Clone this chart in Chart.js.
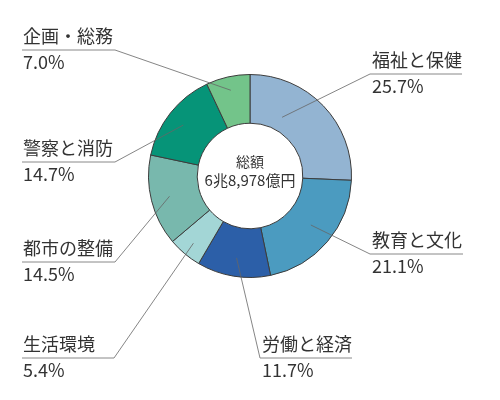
<!DOCTYPE html>
<html>
<head>
<meta charset="utf-8">
<script src="https://cdn.jsdelivr.net/npm/chart.js@4/dist/chart.umd.min.js"></script>
<style>
  html, body { margin: 0; padding: 0; background: #fff; }
  #wrap { width: 500px; height: 400px; }
</style>
</head>
<body>
<div id="wrap"><canvas id="myChart" width="500" height="400"></canvas></div>
<script>
// data
const categories = ["福祉と保健", "教育と文化", "労働と経済", "生活環境", "都市の整備", "警察と消防", "企画・総務"];
const shares = [25.7, 21.1, 11.7, 5.4, 14.5, 14.7, 7.0];
const totalLines = ["総額", "6兆8,978億円"];

// styles
const sliceColors = ["#93b4d2", "#4b9bc0", "#2c5fa8", "#a3d6d6", "#78b8ad", "#069478", "#73c48a"];
const fontFamily = '"Noto Sans CJK JP", "Noto Sans", sans-serif';
const textColor = "#333";

// label placement: text left x, underline y, underline start/end, which end the leader leaves from,
// and where on the slice the leader ends (fraction of angle, fraction of ring width)
const labelLayout = [
    { x: 372, y: 74,  x1: 370, x2: 462, from: "left",  f: 0.31, g: 0.29 },
    { x: 372, y: 254, x1: 370, x2: 463, from: "left",  f: 0.48, g: 0.52 },
    { x: 262, y: 358, x1: 260, x2: 352, from: "left",  f: 0.5,  g: 0.62 },
    { x: 23,  y: 358, x1: 22,  x2: 114, from: "right", f: 0.5,  g: 0.72 },
    { x: 23,  y: 262, x1: 22,  x2: 115, from: "right", f: 0.5,  g: 0.62 },
    { x: 23,  y: 162, x1: 22,  x2: 115, from: "right", f: 0.48, g: 0.64 },
    { x: 23,  y: 50,  x1: 22,  x2: 115, from: "right", f: 0.5,  g: 0.72 }
];

const labelPlugin = {
    id: "labelPlugin",
    afterDraw(chart) {
        const ctx = chart.ctx;
        const arcs = chart.getDatasetMeta(0).data;
        ctx.save();
        arcs.forEach((arc, i) => {
            const lay = labelLayout[i];
            const a = arc.startAngle + lay.f * (arc.endAngle - arc.startAngle);
            const r = arc.innerRadius + lay.g * (arc.outerRadius - arc.innerRadius);
            const px = arc.x + r * Math.cos(a);
            const py = arc.y + r * Math.sin(a);
            const sx = lay.from === "left" ? lay.x1 : lay.x2;

            // leader line
            ctx.strokeStyle = "#666";
            ctx.lineWidth = 0.8;
            ctx.beginPath();
            ctx.moveTo(px, py);
            ctx.lineTo(sx, lay.y);
            ctx.stroke();

            // underline
            ctx.strokeStyle = "#888";
            ctx.lineWidth = 1;
            ctx.beginPath();
            ctx.moveTo(lay.x1, lay.y);
            ctx.lineTo(lay.x2, lay.y);
            ctx.stroke();

            // texts
            ctx.fillStyle = textColor;
            ctx.textAlign = "left";
            ctx.textBaseline = "alphabetic";
            ctx.font = "18px " + fontFamily;
            ctx.fillText(categories[i], lay.x, lay.y - 7);
            ctx.fillText(shares[i].toFixed(1) + "%", lay.x, lay.y + 19);
        });

        // total in the middle
        const c = arcs[0];
        ctx.textAlign = "center";
        ctx.textBaseline = "middle";
        ctx.fillStyle = textColor;
        ctx.font = "14px " + fontFamily;
        ctx.fillText(totalLines[0], c.x, c.y - 14);
        ctx.font = "15px " + fontFamily;
        ctx.fillText(totalLines[1], c.x, c.y + 4);
        ctx.restore();
    }
};

const ctx = document.getElementById("myChart").getContext("2d");
const myChart = new Chart(ctx, {
    type: "doughnut",
    data: {
        labels: categories,
        datasets: [{
            data: shares,
            backgroundColor: sliceColors,
            borderColor: "#3c3c3c",
            borderWidth: 1
        }]
    },
    options: {
        responsive: false,
        animation: false,
        cutout: "52%",
        layout: { padding: { top: 74, bottom: 122, left: 0, right: 0 } },
        plugins: {
            legend: { display: false },
            tooltip: { enabled: false }
        }
    },
    plugins: [labelPlugin]
});
</script>
</body>
</html>
